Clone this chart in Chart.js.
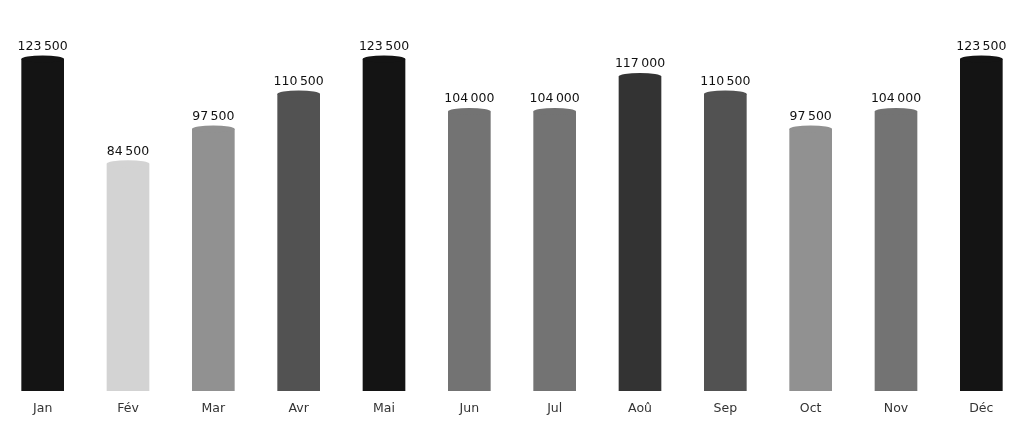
<!DOCTYPE html><html><head><meta charset="utf-8"><script src="https://cdn.jsdelivr.net/npm/chart.js@4"></script>
<style>html,body{margin:0;background:#fff}#w{width:1024px;height:422px}</style></head><body><div id="w"><canvas id="c"></canvas></div>
<script>
const months=["Jan","Fév","Mar","Avr","Mai","Jun","Jul","Aoû","Sep","Oct","Nov","Déc"];
const sales=[123500,84500,97500,110500,123500,104000,104000,117000,110500,97500,104000,123500];
const barColors=["#141414","#d3d3d3","#919191","#525252","#141414","#737373","#737373","#333333","#525252","#919191","#737373","#141414"];
const fmt=v=>String(v).replace(/\B(?=(\d{3})+(?!\d))/g,"\u202f");
const caps={id:"caps",afterDatasetsDraw(ch){const ctx=ch.ctx;const m=ch.getDatasetMeta(0);
m.data.forEach((b,i)=>{ctx.save();ctx.fillStyle=barColors[i];ctx.beginPath();ctx.ellipse(b.x,b.y,b.width/2,3.5,0,0,Math.PI*2);ctx.fill();
ctx.fillStyle="#111";ctx.font="12.5px 'DejaVu Sans'";ctx.textAlign="center";ctx.textBaseline="bottom";ctx.fillText(fmt(sales[i]),b.x,b.y-6);ctx.restore();});}};
new Chart(document.getElementById("c"),{type:"bar",data:{labels:months,datasets:[{data:sales,backgroundColor:barColors,barPercentage:0.5,categoryPercentage:1}]},
options:{responsive:true,maintainAspectRatio:false,animation:false,layout:{padding:{top:20,left:0,right:0,bottom:4}},
plugins:{legend:{display:false},tooltip:{enabled:false}},
scales:{y:{display:false,min:0,max:138000},x:{grid:{display:false},border:{display:false},ticks:{color:"#333",font:{family:"DejaVu Sans",size:12.5},padding:2}}}},plugins:[caps]});
</script></body></html>
